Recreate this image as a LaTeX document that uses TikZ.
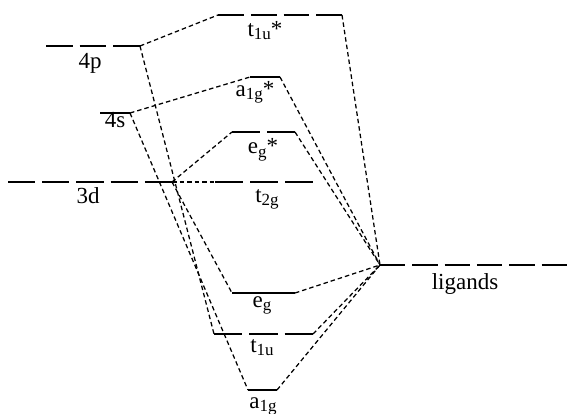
\documentclass[tikz,border=0pt]{standalone}
\usepackage{fontspec}
\setmainfont{Liberation Serif}
\newcommand{\lsub}[1]{\raisebox{-3pt}{\fontsize{17}{17}\selectfont #1}}
\begin{document}
\begin{tikzpicture}[x=1pt,y=-1pt,
  level/.style={line width=1.6pt,dash pattern=on #1 off 7pt},
  solidlevel/.style={line width=1.6pt},
  link/.style={line width=1.25pt,dash pattern=on 4.5pt off 3pt},
  lab/.style={anchor=base,inner sep=0pt,font=\fontsize{23}{25}\selectfont}]
\useasboundingbox (0,0) rectangle (567,414);
% metal levels
\coordinate (p4L) at (46,46);   \coordinate (p4R) at (140,46);
\coordinate (s4L) at (100,113); \coordinate (s4R) at (130,113);
\coordinate (d3L) at (8,182);   \coordinate (d3R) at (172,182);
\draw[level=26.7pt] (p4L) -- (p4R);
\draw[solidlevel] (s4L) -- (s4R);
\draw[level=27.2pt] (d3L) -- (d3R);
\node[lab] (p4) at (90,69) {4p};
\node[lab] (s4) at (115,128) {4s};
\node[lab] (d3) at (88,204) {3d};
% molecular orbitals
\coordinate (t1usL) at (218,15);  \coordinate (t1usR) at (342,15);
\coordinate (a1gsL) at (250,77);  \coordinate (a1gsR) at (280,77);
\coordinate (egsL) at (232,132);  \coordinate (egsR) at (295,132);
\coordinate (t2gL) at (215,182);  \coordinate (t2gR) at (313,182);
\coordinate (egL) at (232,293);   \coordinate (egR) at (295,293);
\coordinate (t1uL) at (214,334);  \coordinate (t1uR) at (313,334);
\coordinate (a1gL) at (248,390);  \coordinate (a1gR) at (277,390);
\draw[level=25.75pt] (t1usL) -- (t1usR);
\draw[solidlevel] (a1gsL) -- (a1gsR);
\draw[level=28pt] (egsL) -- (egsR);
\draw[level=28pt] (t2gL) -- (t2gR);
\draw[solidlevel] (egL) -- (egR);
\draw[level=28.3pt] (t1uL) -- (t1uR);
\draw[solidlevel] (a1gL) -- (a1gR);
\node[lab] (t1us) at (265,37) {t\lsub{1u}*};
\node[lab] (a1gs) at (255,97) {a\lsub{1g}*};
\node[lab] (egs) at (263,154) {e\lsub{g}*};
\node[lab] (t2g) at (267,202) {t\lsub{2g}};
\node[lab] (eg) at (262,307) {e\lsub{g}};
\node[lab] (t1u) at (262,352) {t\lsub{1u}};
\node[lab] (a1g) at (263,408) {a\lsub{1g}};
% ligand levels
\coordinate (ligL) at (380,265); \coordinate (ligR) at (567,265);
\draw[level=25.3pt] (ligL) -- (ligR);
\node[lab] (lig) at (465,289) {ligands};
% correlation lines
\draw[link] (p4R) -- (t1usL);
\draw[link] (p4R) -- (t1uL);
\draw[link] (s4R) -- (a1gsL);
\draw[link] (s4R) -- (a1gL);
\draw[link] (d3R) -- (egsL);
\draw[link] (d3R) -- (t2gL);
\draw[link] (d3R) -- (egL);
\foreach \m in {t1usR,a1gsR,egsR,egR,t1uR,a1gR}
  \draw[link] (\m) -- (ligL);
\end{tikzpicture}
\end{document}
